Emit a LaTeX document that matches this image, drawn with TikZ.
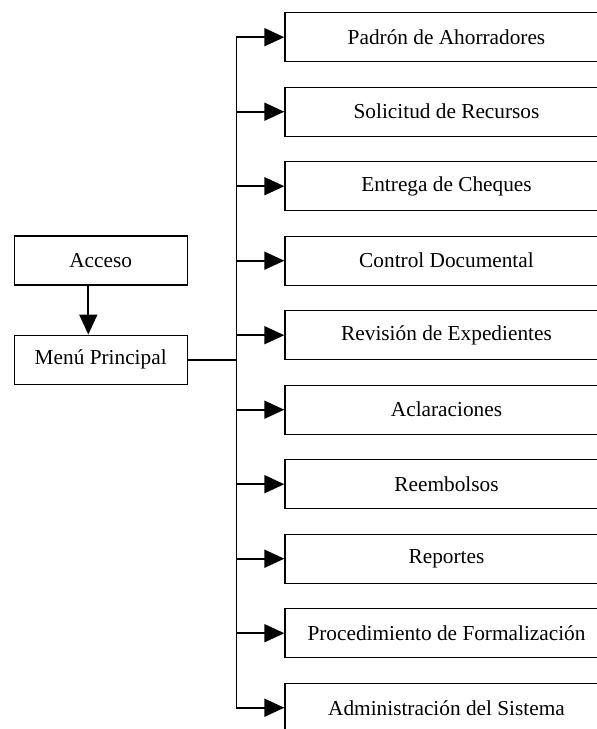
\documentclass[tikz,border=0pt]{standalone}
\usepackage{fontspec}
\setmainfont{Liberation Serif}
\usetikzlibrary{arrows.meta}
\begin{document}
\begin{tikzpicture}[x=1pt,y=-1pt,
  box/.style={draw, line width=1.4pt, minimum height=49pt, inner sep=0pt,
    font=\fontsize{21.3}{24}\selectfont},
  leftbox/.style={box, minimum width=173pt},
  menubox/.style={box, minimum width=323pt},
  link/.style={line width=1.8pt},
  tip/.style={-{Triangle[length=20pt,width=18pt]}}]
\useasboundingbox (0,0) rectangle (597,729);
\clip (0,0) rectangle (597,729);

% left column
\node[leftbox] (acc)  at (100.7,260.4) {Acceso};
\node[leftbox] (menu) at (100.7,359.7) {Menú Principal};
\draw[link,tip] ([xshift=-12.4pt]acc.south) -- ([xshift=-12.4pt]menu.north);

% menu options
\foreach \i/\txt in {0/Padrón de Ahorradores, 1/Solicitud de Recursos,
    2/Entrega de Cheques, 3/Control Documental, 4/Revisión de Expedientes,
    5/Aclaraciones, 6/Reembolsos, 7/Reportes,
    8/Procedimiento de Formalización, 9/Administración del Sistema}
  \node[menubox] (b\i) at (446.5,37.2+74.5*\i) {\txt};

% trunk and branches
\coordinate (trunk) at (236.5,0);
\draw[link,line cap=rect] (b0.west -| trunk) -- (b9.west -| trunk);
\draw[link] (menu.east) -- (menu.east -| trunk);
\foreach \i in {0,...,9}
  \draw[link,tip] (b\i.west -| trunk) -- (b\i.west);
\end{tikzpicture}
\end{document}
